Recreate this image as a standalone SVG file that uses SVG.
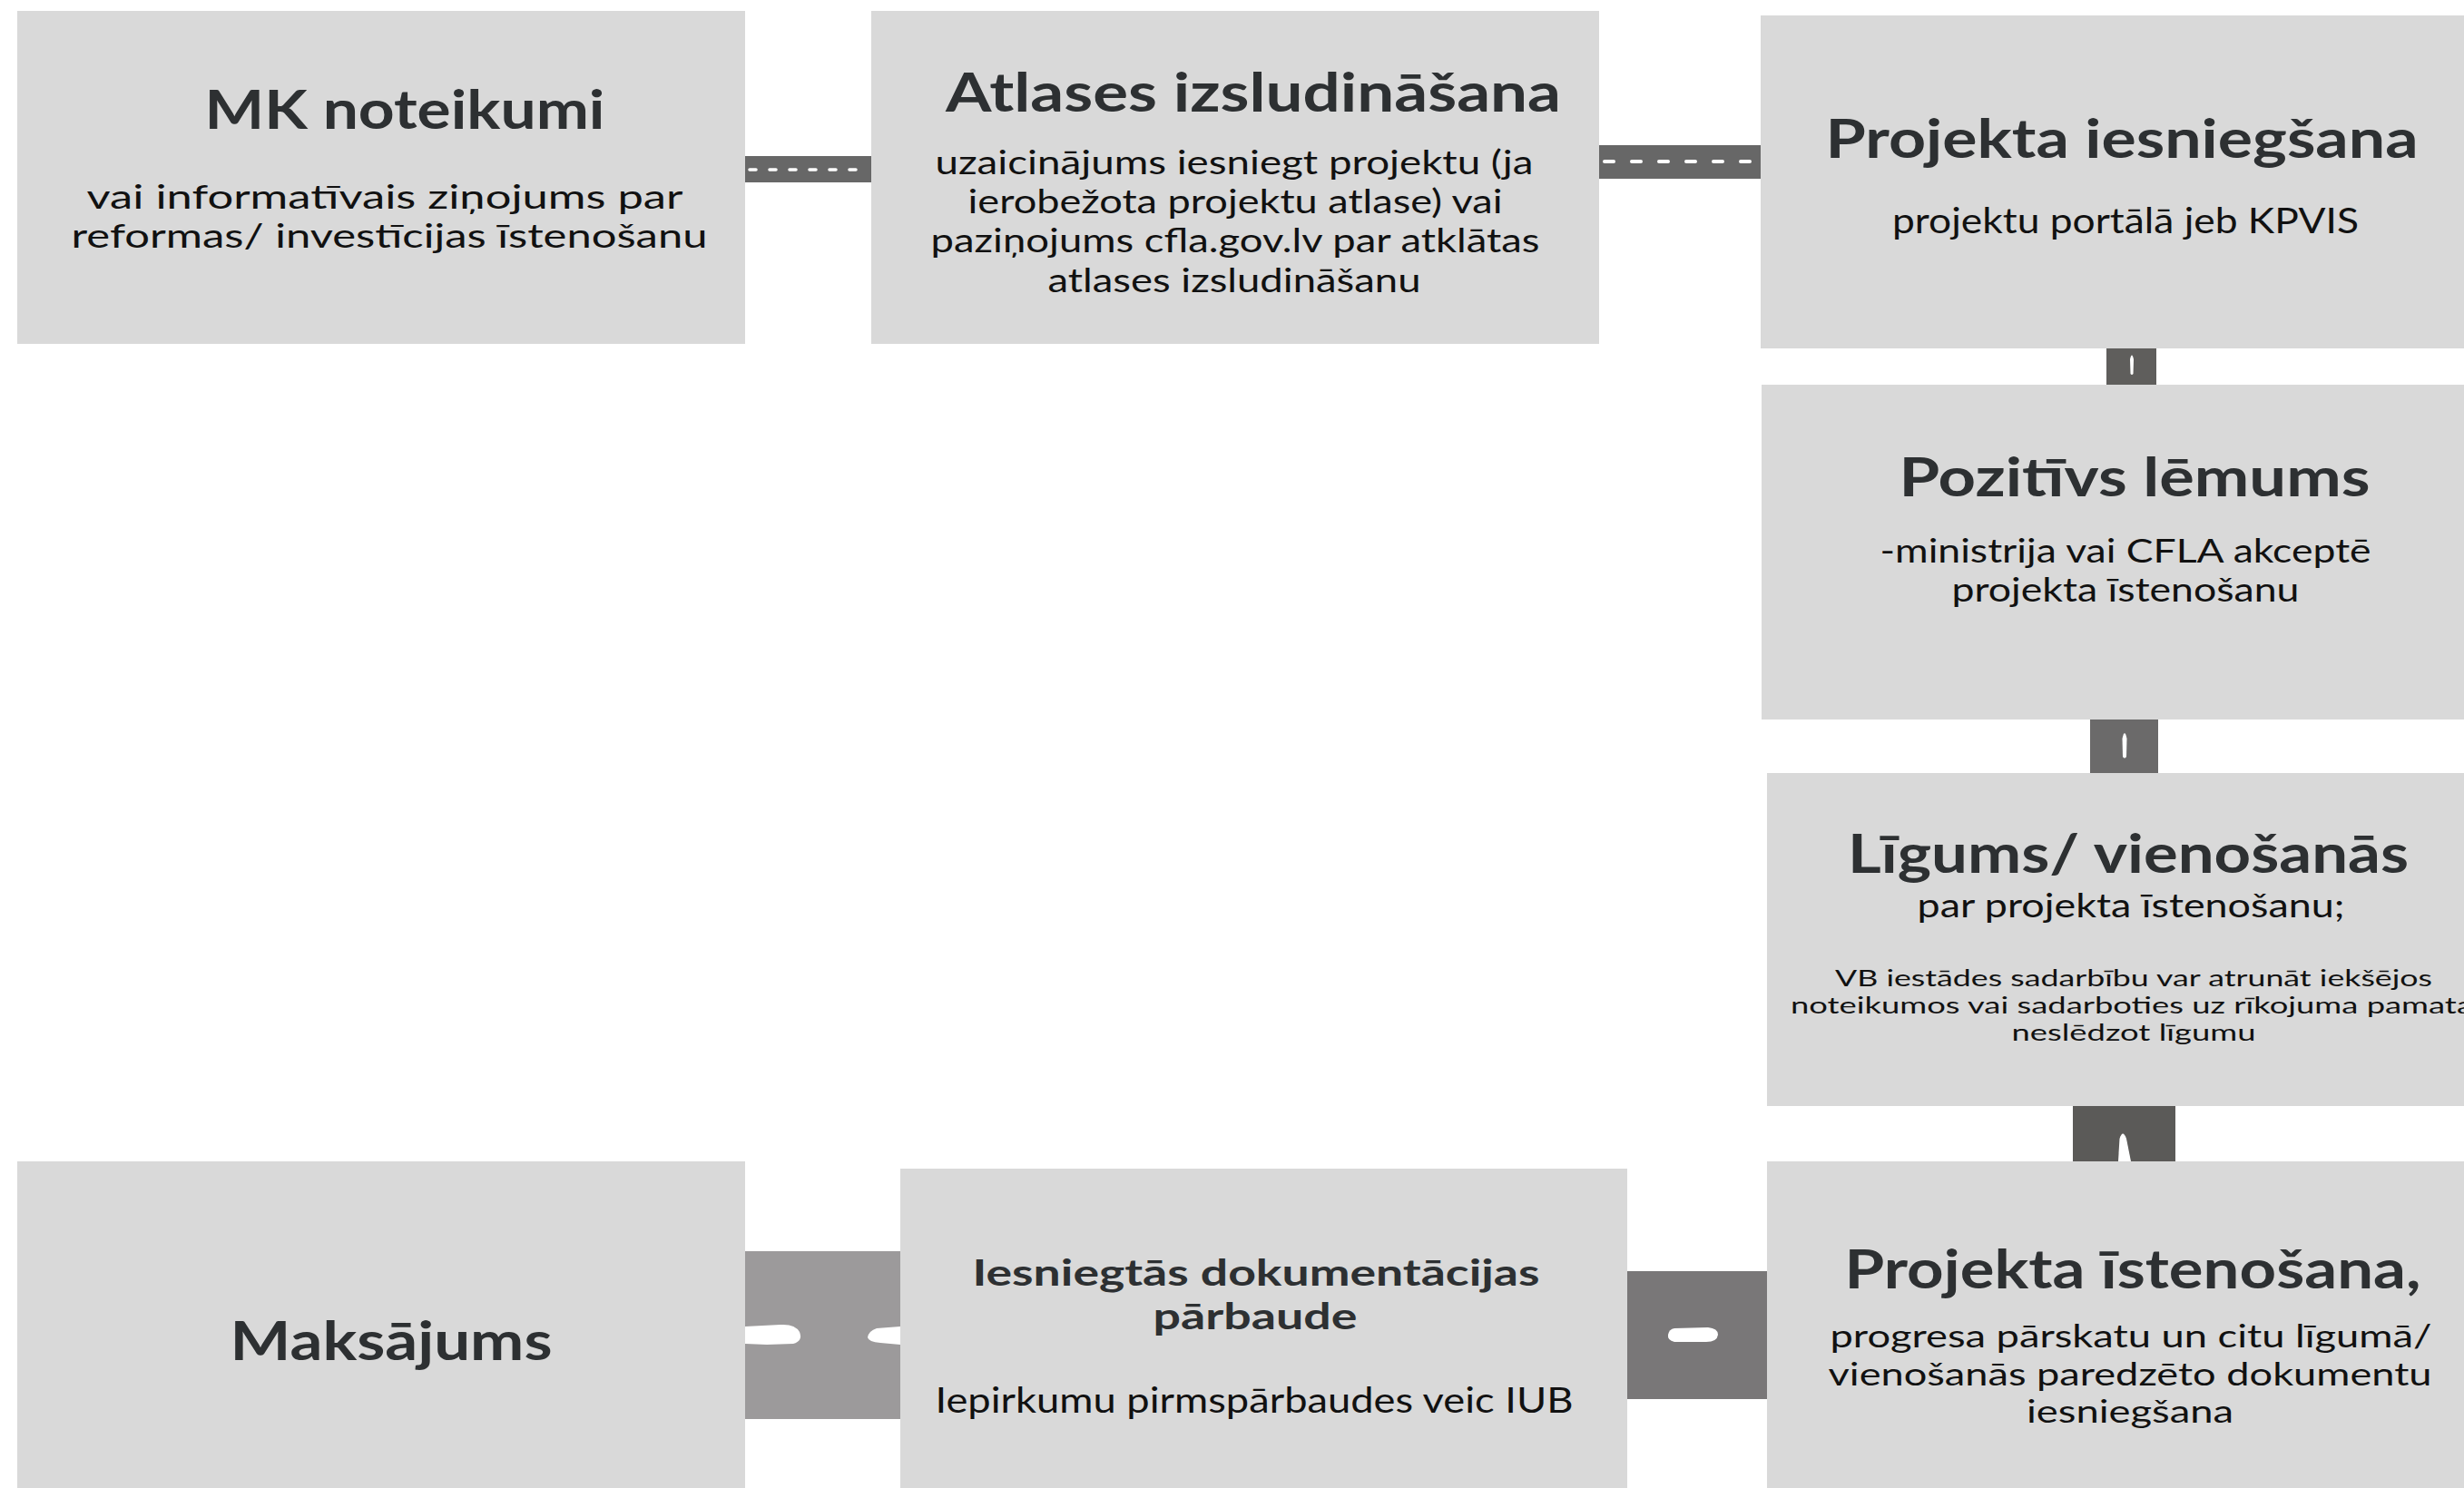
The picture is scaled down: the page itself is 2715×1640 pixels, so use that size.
<svg xmlns="http://www.w3.org/2000/svg" width="2715" height="1640" viewBox="0 0 2715 1640">
<style>
.box{fill:#d9d9d9}
.t{font-family:Lato,"Open Sans","Liberation Sans",sans-serif;font-weight:700;fill:#2d3032;text-anchor:middle}
.b{font-family:Lato,"Open Sans","Liberation Sans",sans-serif;font-weight:400;fill:#111111;text-anchor:middle}
.dash{stroke:#ffffff;stroke-linecap:round;fill:none}
.mark{fill:#ffffff}
</style>
<rect width="2715" height="1640" fill="#ffffff"/>
<g id="connectors">
  <rect x="821" y="172" width="139" height="29" fill="#676767"/>
  <line class="dash" x1="826" y1="187" x2="958" y2="187" stroke-width="3.5" stroke-dasharray="7 15"/>
  <rect x="1762" y="160" width="178" height="37" fill="#676767"/>
  <line class="dash" x1="1768" y1="178" x2="1938" y2="178" stroke-width="4" stroke-dasharray="10 20"/>
  <rect x="2321" y="384" width="55" height="40" fill="#5f5e5c"/>
  <path class="mark" d="M2347.5,412 L2347,396 Q2349,387 2351,396 L2350.5,412 Q2349,414 2347.5,412 Z"/>
  <rect x="2303" y="793" width="75" height="59" fill="#6b6a6a"/>
  <path class="mark" d="M2339,834 L2338.5,814 Q2341,802 2343.5,814 L2343,834 Q2341,837 2339,834 Z"/>
  <rect x="2284" y="1219" width="113" height="61" fill="#5b5a58"/>
  <path class="mark" d="M2334,1280 L2335.5,1255 Q2339,1244 2343,1255 L2348,1280 Z"/>
  <rect x="821" y="1379" width="171" height="185" fill="#9c9a9b"/>
  <path class="mark" d="M821,1462 L860,1460 Q876,1459 881,1468 Q885,1478 874,1481 L845,1482 L821,1481 Z"/>
  <path class="mark" d="M992,1462 L966,1464 Q957,1467 956,1474 Q957,1479 970,1480 L992,1482 Z"/>
  <rect x="1793" y="1401" width="154" height="141" fill="#797778"/>
  <path class="mark" d="M1845,1464 L1882,1463 Q1893,1464 1893,1471 Q1892,1479 1880,1479 L1845,1479 Q1837,1477 1838,1471 Q1839,1465 1845,1464 Z"/>
</g>
<g id="node-mk">
  <rect class="box" x="19" y="12" width="802" height="367"/>
  <text class="t" x="446" y="142" font-size="60" textLength="441" lengthAdjust="spacingAndGlyphs">MK noteikumi</text>
  <text class="b" x="424" y="230" font-size="37" textLength="657" lengthAdjust="spacingAndGlyphs">vai informatīvais ziņojums par</text>
  <text class="b" x="429" y="273" font-size="37" textLength="701" lengthAdjust="spacingAndGlyphs">reformas/ investīcijas īstenošanu</text>
</g>
<g id="node-atlases">
  <rect class="box" x="960" y="12" width="802" height="367"/>
  <text class="t" x="1381" y="123" font-size="60" textLength="678" lengthAdjust="spacingAndGlyphs">Atlases izsludināšana</text>
  <text class="b" x="1360" y="192" font-size="36" textLength="659" lengthAdjust="spacingAndGlyphs">uzaicinājums iesniegt projektu (ja</text>
  <text class="b" x="1361" y="235" font-size="36" textLength="589" lengthAdjust="spacingAndGlyphs">ierobežota projektu atlase) vai</text>
  <text class="b" x="1361" y="278" font-size="36" textLength="671" lengthAdjust="spacingAndGlyphs">paziņojums cfla.gov.lv par atklātas</text>
  <text class="b" x="1360" y="322" font-size="36" textLength="411" lengthAdjust="spacingAndGlyphs">atlases izsludināšanu</text>
</g>
<g id="node-iesniegsana">
  <rect class="box" x="1940" y="17" width="800" height="367"/>
  <text class="t" x="2338" y="174" font-size="60" textLength="653" lengthAdjust="spacingAndGlyphs">Projekta iesniegšana</text>
  <text class="b" x="2342" y="257" font-size="39" textLength="514" lengthAdjust="spacingAndGlyphs">projektu portālā jeb KPVIS</text>
</g>
<g id="node-lemums">
  <rect class="box" x="1941" y="424" width="800" height="369"/>
  <text class="t" x="2352" y="547" font-size="60" textLength="519" lengthAdjust="spacingAndGlyphs">Pozitīvs lēmums</text>
  <text class="b" x="2342" y="620" font-size="36" textLength="541" lengthAdjust="spacingAndGlyphs">-ministrija vai CFLA akceptē</text>
  <text class="b" x="2342" y="663" font-size="36" textLength="383" lengthAdjust="spacingAndGlyphs">projekta īstenošanu</text>
</g>
<g id="node-ligums">
  <rect class="box" x="1947" y="852" width="800" height="367"/>
  <text class="t" x="2345" y="962" font-size="60" textLength="618" lengthAdjust="spacingAndGlyphs">Līgums/ vienošanās</text>
  <text class="b" x="2348" y="1011" font-size="36" textLength="471" lengthAdjust="spacingAndGlyphs">par projekta īstenošanu;</text>
  <text class="b" x="2351" y="1087" font-size="25" textLength="658" lengthAdjust="spacingAndGlyphs">VB iestādes sadarbību var atrunāt iekšējos</text>
  <text class="b" x="1973" y="1117" font-size="25" style="text-anchor:start" textLength="752" lengthAdjust="spacingAndGlyphs">noteikumos vai sadarboties uz rīkojuma pamata</text>
  <text class="b" x="2351" y="1147" font-size="25" textLength="269" lengthAdjust="spacingAndGlyphs">neslēdzot līgumu</text>
</g>
<g id="node-istenosana">
  <rect class="box" x="1947" y="1280" width="800" height="370"/>
  <text class="t" x="2350" y="1420" font-size="60" textLength="635" lengthAdjust="spacingAndGlyphs">Projekta īstenošana,</text>
  <text class="b" x="2348" y="1485" font-size="35" textLength="663" lengthAdjust="spacingAndGlyphs">progresa pārskatu un citu līgumā/</text>
  <text class="b" x="2347" y="1527" font-size="35" textLength="665" lengthAdjust="spacingAndGlyphs">vienošanās paredzēto dokumentu</text>
  <text class="b" x="2347" y="1568" font-size="35" textLength="228" lengthAdjust="spacingAndGlyphs">iesniegšana</text>
</g>
<g id="node-parbaude">
  <rect class="box" x="992" y="1288" width="801" height="360"/>
  <text class="t" x="1384" y="1417" font-size="40" textLength="625" lengthAdjust="spacingAndGlyphs">Iesniegtās dokumentācijas</text>
  <text class="t" x="1383" y="1465" font-size="40" textLength="225" lengthAdjust="spacingAndGlyphs">pārbaude</text>
  <text class="b" x="1382" y="1557" font-size="39" textLength="703" lengthAdjust="spacingAndGlyphs">Iepirkumu pirmspārbaudes veic IUB</text>
</g>
<g id="node-maksajums">
  <rect class="box" x="19" y="1280" width="802" height="370"/>
  <text class="t" x="431" y="1499" font-size="60" textLength="355" lengthAdjust="spacingAndGlyphs">Maksājums</text>
</g>
</svg>
